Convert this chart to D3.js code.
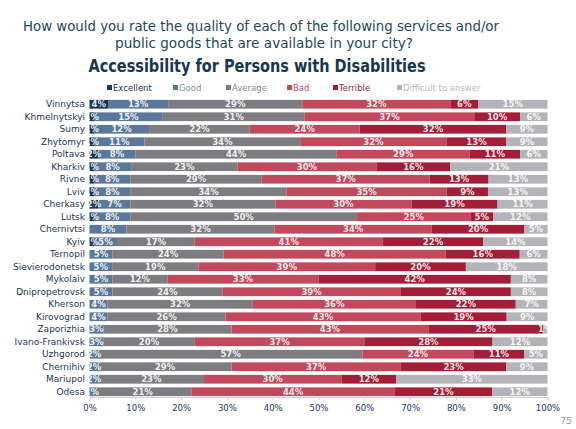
<!DOCTYPE html>
<html>
<head>
<meta charset="utf-8">
<script src="https://cdn.jsdelivr.net/npm/d3@7"></script>
<style>
  html, body { margin: 0; padding: 0; background: #ffffff; }
  svg { display: block; }
  text { font-family: "DejaVu Sans", Verdana, sans-serif; }
</style>
</head>
<body>
<svg id="chart" width="576" height="429"></svg>
<script>
const cities = ["Vinnytsa","Khmelnytskyi","Sumy","Zhytomyr","Poltava","Kharkiv","Rivne","Lviv","Cherkasy","Lutsk","Chernivtsi","Kyiv","Ternopil","Sievierodonetsk","Mykolaiv","Dnipropetrovsk","Kherson","Kirovograd","Zaporizhia","Ivano-Frankivsk","Uzhgorod","Chernihiv","Mariupol","Odesa"];
const seriesNames = ["Excellent","Good","Average","Bad","Terrible","Difficult to answer"];
const excellent = [4,1,1,1,2,1,1,1,2,1,0,1,0,0,0,0,0,0,0,0,0,0,0,0];
const good      = [13,15,12,11,8,8,8,8,7,8,8,5,5,5,5,5,4,4,3,3,2,2,2,1];
const average   = [29,31,22,34,44,23,29,34,32,50,32,17,24,19,12,24,32,26,28,20,57,29,23,21];
const bad       = [32,37,24,32,29,30,37,35,30,25,34,41,48,39,33,39,36,43,43,37,24,37,30,44];
const terrible  = [6,10,32,13,11,16,13,9,19,5,20,22,16,20,42,24,22,19,25,28,11,23,12,21];
const difficult = [15,6,9,9,6,21,13,13,11,12,5,14,6,18,8,8,7,9,1,12,5,9,33,12];
const xTicks = [0,0.1,0.2,0.3,0.4,0.5,0.6,0.7,0.8,0.9,1];
const colors = ["#1e3659","#5b789a","#7d7d81","#c2485c","#a41d36","#b3b3b8"];
const legendTextColors = ["#1e3659","#7f8c99","#8a8a8e","#c2485c","#a41d36","#b8b8bc"];

const seriesArrays = [excellent, good, average, bad, terrible, difficult];
const table = cities.map((c, i) => {
  const row = { city: c };
  seriesNames.forEach((s, k) => { row[s] = seriesArrays[k][i]; });
  return row;
});

const svg = d3.select("#chart");

// Titles
svg.append("text").attr("x", 261).attr("y", 31).attr("text-anchor", "middle")
  .attr("font-size", 14).attr("fill", "#24495a")
  .attr("textLength", 476).attr("lengthAdjust", "spacingAndGlyphs")
  .text("How would you rate the quality of each of the following services and/or");
svg.append("text").attr("x", 264).attr("y", 48).attr("text-anchor", "middle")
  .attr("font-size", 14).attr("fill", "#24495a")
  .attr("textLength", 298).attr("lengthAdjust", "spacingAndGlyphs")
  .text("public goods that are available in your city?");
svg.append("text").attr("x", 257).attr("y", 72).attr("text-anchor", "middle")
  .attr("font-size", 17.5).attr("font-weight", "bold").attr("fill", "#17364f")
  .attr("textLength", 337).attr("lengthAdjust", "spacingAndGlyphs")
  .text("Accessibility for Persons with Disabilities");

// Legend
const legendX = [107, 173, 226, 287, 333, 397];
const lg = svg.append("g").selectAll("g").data(seriesNames).join("g")
  .attr("transform", (d, i) => `translate(${legendX[i]},91)`);
lg.append("rect").attr("x", 0).attr("y", -6).attr("width", 5).attr("height", 5)
  .attr("fill", (d, i) => colors[i]);
lg.append("text").attr("x", 6).attr("y", 0).attr("font-size", 8.5)
  .attr("fill", (d, i) => legendTextColors[i]).text(d => d);

// Scales
const x = d3.scaleLinear().domain([0, 1]).range([89.5, 547.5]);
const y = d3.scaleBand().domain(cities).range([98, 398]).paddingInner(0.3).paddingOuter(0.15);

const stack = d3.stack().keys(seriesNames).offset(d3.stackOffsetExpand);
const stacked = stack(table);

const gBars = svg.append("g");
const layers = gBars.selectAll("g.layer").data(stacked).join("g")
  .attr("class", "layer").attr("fill", (d, i) => colors[i]);
layers.selectAll("rect").data(d => d.map(p => ({ p, key: d.key }))).join("rect")
  .attr("x", d => x(d.p[0]))
  .attr("y", d => y(d.p.data.city))
  .attr("width", d => Math.max(0, x(d.p[1]) - x(d.p[0])))
  .attr("height", y.bandwidth());

// Segment labels
const gLabels = svg.append("g");
stacked.forEach(layer => {
  gLabels.selectAll(null).data(layer.filter(p => p.data[layer.key] > 0)).join("text")
    .attr("x", p => (x(p[0]) + x(p[1])) / 2)
    .attr("y", p => y(p.data.city) + y.bandwidth() / 2 + 3.2)
    .attr("text-anchor", "middle")
    .attr("font-size", 8.5)
    .attr("font-weight", "bold")
    .attr("fill", "#ffffff")
    .attr("fill-opacity", 0.9)
    .text(p => p.data[layer.key] + "%");
});

// Y axis (city labels)
const yAxis = d3.axisLeft(y).tickSize(0).tickPadding(4);
const gy = svg.append("g").attr("transform", `translate(${x(0) - 0.5},0)`).call(yAxis);
gy.select(".domain").remove();
gy.selectAll("text").attr("font-size", 9).attr("fill", "#1e3659")
  .attr("font-family", "DejaVu Sans, Verdana, sans-serif");

// X axis
const xAxis = d3.axisBottom(x).tickValues(xTicks).tickFormat(d3.format(".0%")).tickSize(3).tickPadding(5);
const gx = svg.append("g").attr("transform", "translate(0,397)").call(xAxis);
gx.select(".domain").attr("stroke", "#d0d0d4");
gx.selectAll(".tick line").attr("stroke", "#d0d0d4");
gx.selectAll("text").attr("font-size", 8.5).attr("fill", "#1e3659")
  .attr("font-family", "DejaVu Sans, Verdana, sans-serif");

// Page number
svg.append("text").attr("x", 566).attr("y", 424).attr("text-anchor", "middle")
  .attr("font-size", 9).attr("fill", "#9a9a9a").text("75");
</script>
</body>
</html>
